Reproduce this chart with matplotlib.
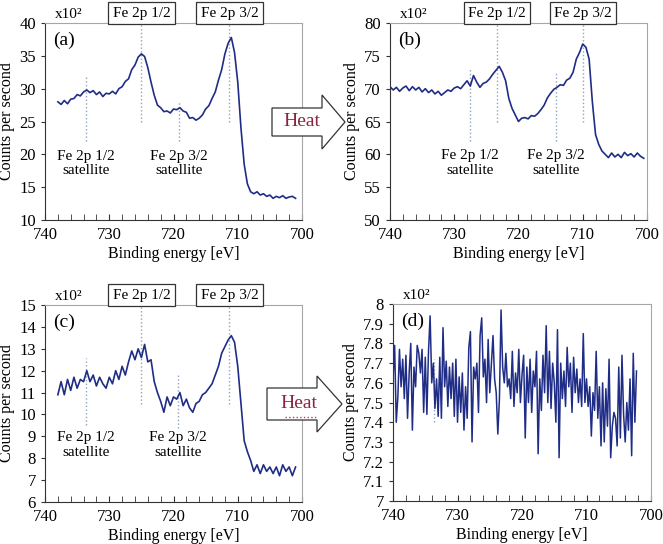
import matplotlib
matplotlib.use('Agg')
import matplotlib.pyplot as plt
from matplotlib.patches import Polygon
from matplotlib.ticker import MultipleLocator, FuncFormatter

plt.rcParams['font.family'] = ['Liberation Serif', 'DejaVu Serif']

# Spectrum (a): as-received, step 0.5 eV, counts x10^2
x_a = [738 - 0.5 * i for i in range(75)]
y_a = [28.0, 27.6, 28.2, 27.7, 28.4, 28.5, 29.1, 28.9, 29.5, 29.8,
       29.4, 29.7, 29.1, 29.5, 28.8, 29.3, 29.2, 29.6, 29.2, 30.0,
       30.3, 31.1, 31.5, 32.9, 33.6, 34.8, 35.3, 34.9, 33.2, 31.0,
       29.0, 27.5, 27.1, 26.5, 26.6, 26.3, 26.9, 26.8, 27.1, 26.6,
       26.4, 25.5, 25.6, 25.2, 25.5, 26.0, 26.9, 27.4, 28.5, 29.5,
       31.3, 32.9, 35.3, 36.9, 37.8, 35.5, 31.0, 24.0, 18.5, 15.5,
       14.3, 14.0, 14.3, 13.8, 14.0, 13.6, 13.8, 13.3, 13.6, 13.4,
       13.7, 13.3, 13.5, 13.6, 13.3]

# Spectrum (b): after heating
x_b = [740 - 0.5 * i for i in range(80)]
y_b = [70.3, 69.8, 70.2, 69.6, 70.1, 70.4, 69.7, 70.3, 69.8, 70.2,
       69.5, 70.0, 69.4, 69.8, 69.2, 69.6, 69.0, 69.4, 69.8, 69.6,
       70.1, 70.3, 70.0, 70.6, 71.2, 70.4, 72.0, 71.0, 70.2, 70.8,
       71.0, 71.5, 72.2, 72.8, 73.4, 72.5, 71.2, 68.5, 67.0, 66.0,
       65.0, 65.5, 65.6, 65.4, 65.9, 65.8, 66.2, 66.8, 67.5, 68.6,
       69.3, 69.9, 70.2, 70.6, 70.5, 71.3, 71.6, 72.5, 74.5, 75.5,
       76.8, 76.3, 74.5, 68.0, 63.0, 61.5, 60.5, 60.0, 59.5, 60.2,
       59.6, 60.0, 59.5, 60.3, 59.8, 60.1, 59.6, 60.2, 59.7, 59.4]

# Spectrum (c): second sample, as-received
x_c = [738 - 0.5 * i for i in range(75)]
y_c = [10.9, 11.5, 10.9, 11.6, 11.1, 11.7, 11.2, 11.6, 11.5, 12.0,
       11.5, 11.8, 11.3, 11.7, 11.4, 11.2, 11.7, 11.4, 12.0, 11.6,
       12.2, 11.8, 12.4, 12.9, 12.5, 13.0, 12.6, 13.2, 12.4, 12.5,
       11.5, 11.0, 10.6, 10.1, 10.8, 10.4, 10.8, 10.7, 11.0, 10.4,
       10.7, 10.3, 10.1, 10.5, 10.6, 10.9, 11.0, 11.2, 11.4, 11.8,
       12.2, 12.8, 13.1, 13.4, 13.6, 13.3, 12.2, 10.5, 8.8, 8.3,
       7.9, 7.4, 7.7, 7.3, 7.7, 7.4, 7.6, 7.3, 7.6, 7.2,
       7.7, 7.4, 7.6, 7.2, 7.6]

# Spectrum (d): after heating, step 0.25 eV
x_d = [740 - 0.25 * i for i in range(152)]
y_d = [7.62, 7.79, 7.40, 7.53, 7.77, 7.58, 7.72, 7.52,
       7.74, 7.42, 7.65, 7.80, 7.36, 7.68, 7.58, 7.79,
       7.75, 7.65, 7.77, 7.45, 7.73, 7.44, 7.76, 7.94,
       7.60, 7.70, 7.47, 7.62, 7.43, 7.73, 7.42, 7.88,
       7.58, 7.71, 7.48, 7.68, 7.52, 7.70, 7.43, 7.72,
       7.40, 7.63, 7.45, 7.65, 7.36, 7.58, 7.42, 7.78,
       7.86, 7.30, 7.68, 7.62, 7.70, 7.45, 7.84, 7.93,
       7.63, 7.72, 7.50, 7.82, 7.55, 7.70, 7.84, 7.62,
       7.55, 7.34, 7.52, 7.97, 7.68, 7.60, 7.75, 7.58,
       7.62, 7.52, 7.76, 7.48, 7.65, 7.55, 7.77, 7.50,
       7.64, 7.74, 7.32, 7.68, 7.50, 7.72, 7.45, 7.66,
       7.58, 7.76, 7.24, 7.62, 7.46, 7.74, 7.55, 7.89,
       7.50, 7.76, 7.47, 7.70, 7.60, 7.40, 7.87, 7.22,
       7.70, 7.52, 7.66, 7.48, 7.78, 7.58, 7.70, 7.45,
       7.73, 7.55, 7.67, 7.50, 7.62, 7.48, 7.85, 7.50,
       7.62, 7.48, 7.58, 7.33, 7.55, 7.46, 7.76, 7.42,
       7.58, 7.28, 7.60, 7.30, 7.57, 7.38, 7.72, 7.22,
       7.38, 7.45, 7.42, 7.28, 7.68, 7.32, 7.74, 7.44,
       7.30, 7.50, 7.36, 7.62, 7.23, 7.75, 7.40, 7.66]

# Peak positions (eV) used for boxes and guide lines
peaks_a = [725.0, 711.3]
peaks_b = [723.3, 710.0]
peaks_c = [725.0, 711.3]
sat_a = [733.6, 719.2]
sat_b = [727.5, 714.2]
sat_c = [733.6, 719.3]
peak_names = ['Fe 2p 1/2', 'Fe 2p 3/2']
sat_names = ['Fe 2p 1/2\nsatellite', 'Fe 2p 3/2\nsatellite']

line_col = '#1f2d86'
guide_col = '#8fa3bd'

fig = plt.figure(figsize=(6.63, 5.44), dpi=100)
ax_a = fig.add_axes([0.0679, 0.5956, 0.3876, 0.3621])
ax_b = fig.add_axes([0.5882, 0.5956, 0.3876, 0.3621])
ax_c = fig.add_axes([0.0679, 0.0772, 0.3876, 0.3621])
ax_d = fig.add_axes([0.5928, 0.0790, 0.3891, 0.3621])


def style_axes(ax, ylim, ystep, letter):
    ax.set_xlim(740, 700)
    ax.set_ylim(*ylim)
    ax.xaxis.set_major_locator(MultipleLocator(10))
    ax.xaxis.set_minor_locator(MultipleLocator(2))
    ax.yaxis.set_major_locator(MultipleLocator(ystep))
    ax.yaxis.set_major_formatter(FuncFormatter(lambda v, p: f'{v:g}'))
    ax.tick_params(axis='x', which='both', direction='in', length=4,
                   color='#333333', labelsize=12, pad=5)
    ax.tick_params(axis='y', direction='out', length=3,
                   color='#333333', labelsize=12)
    for side in ['top', 'right']:
        ax.spines[side].set_color('#a6a6a6')
    for side in ['left', 'bottom']:
        ax.spines[side].set_color('#333333')
    ax.set_xlabel('Binding energy [eV]', fontsize=11.5, labelpad=2)
    ax.set_ylabel('Counts per second', fontsize=11.5, labelpad=3)
    ax.text(0.03, 0.91, letter, transform=ax.transAxes, fontsize=14,
            ha='left', va='center')
    ax.text(0.04, 1.045, 'x10²', transform=ax.transAxes, fontsize=11,
            ha='left', va='center')


def add_peak_marks(ax, peaks, sats, peak_bottom, sat_ranges, label_y):
    top = ax.get_ylim()[1]
    for xp, name in zip(peaks, peak_names):
        ax.vlines(xp, peak_bottom, top, colors=guide_col, linestyles=':', lw=1)
        ax.text(xp, 1.05, name, transform=ax.get_xaxis_transform(),
                fontsize=11, ha='center', va='center', clip_on=False,
                bbox=dict(boxstyle='square,pad=0.28', fc='white',
                          ec='#333333', lw=0.9))
    for xs, (lo, hi), name in zip(sats, sat_ranges, sat_names):
        ax.vlines(xs, lo, hi, colors=guide_col, linestyles=':', lw=1)
        ax.text(xs, label_y, name, fontsize=11, ha='center', va='center',
                linespacing=1.15)


# (a)
style_axes(ax_a, (10, 40), 5, '(a)')
add_peak_marks(ax_a, peaks_a, sat_a, 25, [(22, 32), (22, 28)], 18.6)
ax_a.plot(x_a, y_a, color=line_col, lw=1.2)

# (b)
style_axes(ax_b, (50, 80), 5, '(b)')
add_peak_marks(ax_b, peaks_b, sat_b, 65, [(62, 73), (62, 72.5)], 58.7)
ax_b.plot(x_b, y_b, color=line_col, lw=1.2)

# (c)
style_axes(ax_c, (6, 15), 1, '(c)')
add_peak_marks(ax_c, peaks_c, sat_c, 10.5, [(9.5, 12.6), (9.4, 11.8)], 8.6)
ax_c.plot(x_c, y_c, color=line_col, lw=1.2)

# (d)
style_axes(ax_d, (7, 8), 0.1, '(d)')
ax_d.vlines(733.6, 7.40, 7.72, colors=guide_col, linestyles=':', lw=1)
ax_d.plot(x_d, y_d, color=line_col, lw=1.1)


# "Heat" block arrows, given in pixel coordinates of the 663x544 figure
def heat_arrow(x0, x_head, x_tip, body_top, body_bot, head_top, head_bot,
               text_x, dotted=False):
    pts = [(x0, body_top), (x_head, body_top), (x_head, head_top),
           (x_tip, (head_top + head_bot) / 2), (x_head, head_bot),
           (x_head, body_bot), (x0, body_bot)]
    pts = [(px / 663, 1 - py / 544) for px, py in pts]
    fig.patches.append(Polygon(pts, closed=True, transform=fig.transFigure,
                               fc='white', ec='#333333', lw=0.9, zorder=5))
    yc = (body_top + body_bot) / 2
    fig.text(text_x / 663, 1 - yc / 544, 'Heat', color='#8b2440',
             fontsize=14, ha='center', va='center', zorder=6)
    if dotted:
        fig.lines.append(plt.Line2D([285 / 663, 316 / 663],
                                    [1 - 417 / 544, 1 - 417 / 544],
                                    transform=fig.transFigure, color='#c0405a',
                                    ls=':', lw=1, zorder=6))


heat_arrow(272, 322, 345, 108, 136, 95, 149, 302)
heat_arrow(267, 317, 342, 388, 420, 376, 432, 299, dotted=True)

fig.savefig('out.png', dpi=100)
